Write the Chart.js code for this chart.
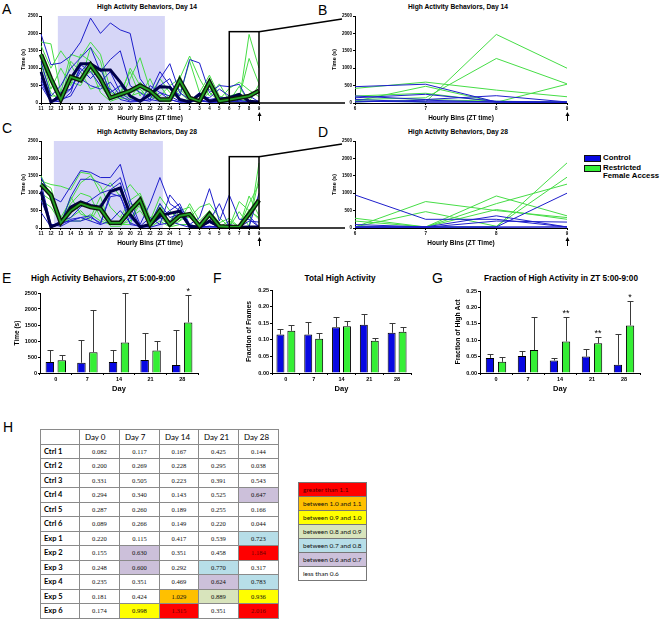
<!DOCTYPE html>
<html>
<head>
<meta charset="utf-8">
<title>High activity behaviors</title>
<script src="https://cdn.jsdelivr.net/npm/chart.js@4.4.1/dist/chart.umd.min.js"></script>
<style>
  body { margin: 0; background: #fff; }
  #page { position: relative; width: 661px; height: 620px; overflow: hidden; font-family: 'Liberation Sans', Arial, sans-serif; color: #000; }
  #page canvas { position: absolute; }
  .letter { position: absolute; font-size: 14px; line-height: 14px; }
  .ttl { position: absolute; font-weight: bold; white-space: nowrap; line-height: 1; transform: translate(-50%, -50%); }
  .key { position: absolute; left: 603px; font-size: 7.8px; font-weight: bold; line-height: 8px; white-space: nowrap; }
  .sw { position: absolute; left: 584px; width: 17px; height: 7px; border: 1px solid #111; box-sizing: border-box; }
  table { position: absolute; border-collapse: collapse; table-layout: fixed; }
  td { border: 1px solid #8a8a8a; padding: 0; overflow: hidden; white-space: nowrap; }
  #ratios tr { height: 14.5px; }
  #ratios td { font-family: 'Liberation Serif', serif; font-size: 6.6px; text-align: center; }
  #ratios td.rh { font-family: Lato, sans-serif; font-weight: bold; font-size: 7.5px; text-align: left; padding-left: 3px; }
  #ratios tr.hd td { font-family: Lato, sans-serif; font-size: 8px; text-align: left; padding-left: 5px; }
  #bands tr { height: 14px; }
  #bands td { font-family: Lato, sans-serif; font-size: 6.5px; padding-left: 4px; border-color: #777; }
</style>
</head>
<body>
<div id="page">
  <div class="letter" style="left:2px;top:2px">A</div>
  <div class="letter" style="left:318px;top:3px">B</div>
  <div class="letter" style="left:2px;top:121px">C</div>
  <div class="letter" style="left:318px;top:125px">D</div>
  <div class="letter" style="left:2px;top:271px">E</div>
  <div class="letter" style="left:213px;top:271px">F</div>
  <div class="letter" style="left:432px;top:271px">G</div>
  <div class="letter" style="left:3px;top:420px">H</div>

  <div class="ttl" style="left:147px;top:7px;font-size:6.7px">High Activity Behaviors, Day 14</div>
  <div class="ttl" style="left:458px;top:7px;font-size:6.7px">High Activity Behaviors, Day 14</div>
  <div class="ttl" style="left:147px;top:132px;font-size:6.7px">High Activity Behaviors, Day 28</div>
  <div class="ttl" style="left:458px;top:132px;font-size:6.7px">High Activity Behaviors, Day 28</div>
  <div class="ttl" style="left:103px;top:279px;font-size:8.2px">High Activity Behaviors, ZT 5:00-9:00</div>
  <div class="ttl" style="left:340px;top:279px;font-size:8.2px">Total High Activity</div>
  <div class="ttl" style="left:561px;top:279px;font-size:8.2px">Fraction of High Activity in ZT 5:00-9:00</div>

  <div class="sw" id="swCtrl" style="top:155px"></div>
  <div class="key" style="top:154px">Control</div>
  <div class="sw" id="swExp" style="top:165px"></div>
  <div class="key" style="top:164px">Restricted</div>
  <div class="key" style="top:172px">Female Access</div>

  <table id="ratios" style="left:40px;top:429px;width:238px"></table>
  <table id="bands" style="left:298px;top:482px;width:69px"></table>
</div>
<script>
// hourly bins (ZT time) used on panels A and C, and the zoomed bins of B and D
const hourBins = ['11', '12', '13', '14', '15', '16', '17', '18', '19', '20', '21', '22', '23', '24',
  '1', '2', '3', '4', '5', '6', '7', '8', '9']
const zoomBins = ['6', '7', '8', '9']
const days = ['0', '7', '14', '21', '28']

// Day 14, time (s) per hourly bin, one array per animal
const d14Ctrl1 = [1980, 1100, 1150, 1350, 1750, 2440, 2000, 2300, 2100, 2000, 700, 300, 900, 500, 200, 1250, 1150, 300, 500, 470, 540, 30, 20]
const d14Ctrl2 = [1200, 200, 500, 1000, 1300, 1600, 900, 1250, 1500, 500, 300, 100, 700, 1130, 300, 100, 200, 150, 400, 200, 100, 210, 30]
const d14Ctrl3 = [700, 30, 300, 400, 900, 1200, 600, 900, 300, 100, 50, 200, 500, 700, 100, 50, 300, 100, 150, 150, 250, 50, 20]
const d14Ctrl4 = [600, 50, 100, 200, 700, 500, 400, 600, 200, 50, 100, 50, 300, 200, 50, 30, 100, 30, 50, 100, 30, 30, 20]
const d14Ctrl5 = [500, 30, 50, 300, 1100, 900, 500, 400, 100, 30, 50, 100, 50, 100, 20, 20, 80, 20, 20, 30, 80, 30, 20]
const d14Ctrl6 = [800, 20, 150, 400, 1000, 700, 1000, 300, 500, 200, 30, 500, 300, 100, 30, 50, 50, 30, 30, 50, 30, 30, 20]
const d14CtrlMean = [900, 30, 200, 700, 1130, 1130, 950, 950, 600, 200, 50, 250, 470, 450, 100, 30, 250, 50, 100, 150, 250, 50, 30]
const d14Exp1 = [1750, 1700, 300, 1400, 1300, 1750, 1400, 400, 100, 700, 1300, 400, 200, 500, 700, 1350, 700, 200, 550, 60, 30, 1970, 1000]
const d14Exp2 = [1650, 1000, 1500, 1100, 600, 1600, 1200, 100, 200, 1000, 500, 200, 700, 300, 200, 1200, 300, 800, 200, 100, 150, 1280, 550]
const d14Exp3 = [1300, 400, 1000, 500, 1400, 1200, 800, 200, 300, 900, 200, 700, 100, 50, 400, 100, 50, 400, 100, 420, 600, 370, 180]
const d14Exp4 = [1100, 300, 50, 1200, 900, 400, 500, 100, 500, 300, 400, 100, 500, 100, 300, 50, 200, 700, 50, 50, 480, 20, 540]
const d14Exp5 = [900, 200, 200, 600, 500, 1000, 300, 50, 150, 100, 600, 300, 50, 30, 800, 50, 30, 500, 30, 200, 280, 30, 30]
const d14Exp6 = [1400, 600, 100, 800, 700, 900, 1000, 300, 200, 200, 300, 200, 50, 50, 500, 100, 50, 300, 50, 30, 100, 50, 30]
const d14ExpMean = [1400, 700, 100, 750, 650, 1100, 700, 150, 250, 350, 500, 350, 100, 100, 650, 150, 50, 600, 50, 100, 150, 200, 350]

// Day 28
const d28Ctrl1 = [1450, 900, 750, 1200, 1650, 1600, 1450, 1450, 1830, 800, 100, 700, 1450, 700, 500, 100, 300, 1130, 200, 950, 250, 250, 30]
const d28Ctrl2 = [800, 100, 100, 900, 1400, 1400, 1300, 1200, 1450, 600, 50, 300, 100, 950, 600, 50, 30, 200, 700, 30, 30, 350, 30]
const d28Ctrl3 = [1100, 50, 200, 300, 600, 800, 1000, 1100, 1300, 300, 30, 100, 700, 300, 400, 30, 30, 50, 30, 100, 30, 30, 1000]
const d28Ctrl4 = [450, 30, 100, 250, 300, 350, 100, 200, 500, 150, 30, 50, 300, 200, 100, 20, 20, 50, 20, 30, 20, 200, 170]
const d28Ctrl5 = [1000, 20, 150, 200, 200, 300, 150, 900, 950, 100, 50, 20, 100, 150, 600, 20, 20, 20, 20, 20, 20, 30, 30]
const d28Ctrl6 = [1300, 100, 50, 200, 300, 200, 100, 1000, 900, 300, 30, 50, 300, 500, 700, 100, 30, 150, 30, 30, 30, 20, 30]
const d28CtrlMean = [1050, 30, 150, 600, 750, 650, 600, 1050, 1150, 400, 30, 100, 350, 420, 480, 50, 20, 200, 30, 30, 20, 30, 30]
const d28Exp1 = [1350, 1250, 1200, 1100, 1600, 1550, 1000, 1300, 900, 1250, 900, 200, 900, 500, 200, 700, 200, 500, 150, 280, 30, 30, 1870]
const d28Exp2 = [1200, 1000, 300, 800, 1300, 1500, 1200, 600, 300, 800, 1000, 300, 400, 200, 600, 300, 600, 700, 300, 30, 760, 500, 300]
const d28Exp3 = [1300, 1150, 200, 700, 1000, 900, 300, 100, 200, 700, 600, 100, 700, 100, 500, 600, 50, 500, 50, 30, 470, 50, 1460]
const d28Exp4 = [1000, 800, 100, 300, 500, 200, 700, 100, 100, 200, 700, 50, 300, 50, 200, 400, 30, 200, 30, 200, 30, 920, 350]
const d28Exp5 = [800, 600, 150, 900, 400, 300, 900, 50, 50, 300, 500, 100, 600, 30, 100, 100, 30, 300, 30, 30, 30, 700, 1260]
const d28Exp6 = [1500, 900, 200, 200, 200, 400, 200, 100, 100, 100, 900, 30, 200, 30, 300, 300, 30, 200, 30, 30, 30, 530, 250]
const d28ExpMean = [1250, 950, 150, 500, 700, 600, 550, 150, 150, 500, 800, 100, 500, 100, 350, 400, 50, 400, 50, 30, 30, 400, 800]

// bar panels: mean and top of error bar
const eCtrl = [340, 320, 340, 410, 250]
const eCtrlErr = [710, 1030, 720, 1250, 1330]
const eExp = [400, 650, 950, 700, 1580]
const eExpErr = [560, 1980, 2490, 1000, 2440]
const eStars = ['', '', '', '', '*']
const fCtrl = [0.116, 0.116, 0.138, 0.145, 0.121]
const fCtrlErr = [0.132, 0.153, 0.168, 0.178, 0.150]
const fExp = [0.127, 0.103, 0.141, 0.097, 0.124]
const fExpErr = [0.144, 0.120, 0.156, 0.106, 0.138]
const gCtrl = [0.046, 0.052, 0.038, 0.050, 0.025]
const gCtrlErr = [0.057, 0.066, 0.045, 0.073, 0.118]
const gExp = [0.034, 0.070, 0.096, 0.091, 0.145]
const gExpErr = [0.048, 0.171, 0.171, 0.111, 0.220]
const gStars = ['', '', '**', '**', '*']

// table H
const dayHeads = ['Day 0', 'Day 7', 'Day 14', 'Day 21', 'Day 28']
const animalNames = ['Ctrl 1', 'Ctrl 2', 'Ctrl 3', 'Ctrl 4', 'Ctrl 5', 'Ctrl 6', 'Exp 1', 'Exp 2', 'Exp 3', 'Exp 4', 'Exp 5', 'Exp 6']
const ctrl1Ratio = [0.082, 0.117, 0.167, 0.425, 0.144]
const ctrl2Ratio = [0.200, 0.269, 0.228, 0.295, 0.038]
const ctrl3Ratio = [0.331, 0.505, 0.223, 0.391, 0.543]
const ctrl4Ratio = [0.294, 0.340, 0.143, 0.525, 0.647]
const ctrl5Ratio = [0.287, 0.260, 0.189, 0.255, 0.166]
const ctrl6Ratio = [0.089, 0.266, 0.149, 0.220, 0.044]
const exp1Ratio = [0.220, 0.115, 0.417, 0.539, 0.723]
const exp2Ratio = [0.155, 0.630, 0.351, 0.458, 1.184]
const exp3Ratio = [0.248, 0.600, 0.292, 0.770, 0.317]
const exp4Ratio = [0.235, 0.351, 0.469, 0.624, 0.783]
const exp5Ratio = [0.181, 0.424, 1.029, 0.889, 0.936]
const exp6Ratio = [0.174, 0.998, 1.315, 0.351, 2.016]
const bandLabels = ['greater than 1.1', 'between 1.0 and 1.1', 'between 0.9 and 1.0', 'between 0.8 and 0.9',
  'between 0.7 and 0.8', 'between 0.6 and 0.7', 'less than 0.6']
const bandFloors = [1.1, 1.0, 0.9, 0.8, 0.7, 0.6, -Infinity]
const bandColors = ['#ff0000', '#ffc000', '#ffff00', '#d8e4bc', '#b7dee8', '#ccc0da', '#ffffff']

const zoomTop = 2050

const BLUE = '#1e1ecb'
const GREEN = '#46dd46'
const BAR_BLUE = '#0808e2'
const BAR_GREEN = '#35ef35'

Chart.defaults.font.family = "'Liberation Sans', Arial, sans-serif"
Chart.defaults.color = '#000'
Chart.defaults.animation = false

const page = document.getElementById('page')
document.getElementById('swCtrl').style.background = BAR_BLUE
document.getElementById('swExp').style.background = BAR_GREEN

/**
 * Shaded dark phase, zoom box and the arrow under ZT 9.
 */
const panelMarks = {
  id: 'panelMarks',
  beforeDatasetsDraw (chart, args, o) {
    if (!o.shade) return
    const { ctx, scales: { x, y } } = chart
    const x0 = x.getPixelForValue(o.shade[0])
    const x1 = x.getPixelForValue(o.shade[1])
    const top = y.getPixelForValue(y.max)
    ctx.save()
    ctx.fillStyle = '#d6d6f7'
    ctx.fillRect(x0, top, x1 - x0, y.getPixelForValue(0) - top)
    ctx.restore()
  },
  afterDatasetsDraw (chart, args, o) {
    const { ctx, chartArea, scales: { x, y } } = chart
    ctx.save()
    ctx.strokeStyle = '#000'
    ctx.fillStyle = '#000'
    if (o.box) {
      const x0 = x.getPixelForValue(o.box[0])
      const x1 = x.getPixelForValue(o.box[1])
      const top = y.getPixelForValue(o.box[2])
      ctx.lineWidth = 1.5
      ctx.strokeRect(x0, top, x1 - x0, y.getPixelForValue(0) - top)
    }
    if (o.arrow !== undefined) {
      const ax = Math.round(x.getPixelForValue(o.arrow)) + 0.5
      const b = chartArea.bottom
      ctx.lineWidth = 1
      ctx.beginPath()
      ctx.moveTo(ax, b + 12)
      ctx.lineTo(ax, b + 18)
      ctx.stroke()
      ctx.beginPath()
      ctx.moveTo(ax, b + 9)
      ctx.lineTo(ax - 2, b + 13)
      ctx.lineTo(ax + 2, b + 13)
      ctx.closePath()
      ctx.fill()
    }
    ctx.restore()
  }
}

/**
 * Upper error bars and significance stars.
 */
const errorBars = {
  id: 'errorBars',
  afterDatasetsDraw (chart) {
    const { ctx } = chart
    const y = chart.scales.y
    ctx.save()
    chart.data.datasets.forEach((ds, i) => {
      chart.getDatasetMeta(i).data.forEach((bar, j) => {
        const bx = Math.round(bar.x) + 0.5
        const top = Math.round(y.getPixelForValue(ds.err[j])) + 0.5
        ctx.strokeStyle = '#3a3a3a'
        ctx.lineWidth = 1
        ctx.beginPath()
        ctx.moveTo(bx, bar.y)
        ctx.lineTo(bx, top)
        ctx.moveTo(bx - 3, top)
        ctx.lineTo(bx + 3, top)
        ctx.stroke()
        if (ds.stars && ds.stars[j]) {
          ctx.fillStyle = '#000'
          ctx.font = "9px 'Liberation Sans', Arial, sans-serif"
          ctx.textAlign = 'center'
          ctx.fillText(ds.stars[j], bar.x, top - 2)
        }
      })
    })
    ctx.restore()
  }
}

// place a canvas so that its chart area lands on the given page box
function mount (area, g) {
  const c = document.createElement('canvas')
  const left = area.l - g.yw - 2
  const top = area.t - g.pt
  c.width = area.r + g.pr - left
  c.height = area.b + g.xh + 2 - top
  c.style.left = left + 'px'
  c.style.top = top + 'px'
  page.appendChild(c)
  return { c, left, top, g }
}

function axisStyle (size) {
  return {
    grid: { drawOnChartArea: false, tickLength: 2, color: '#000', lineWidth: 1 },
    border: { color: '#000', width: 1 },
    ticks: { font: { size, weight: 'bold' }, padding: 1, maxRotation: 0, autoSkip: false }
  }
}

function linePanel (area, spec) {
  const g = { yw: 34, xh: 20, pt: 4, pr: 8 }
  const m = mount(area, g)
  const sets = []
  spec.ctrl.forEach(d => sets.push({ data: d, borderColor: BLUE, borderWidth: 1, order: 4 }))
  spec.exp.forEach(d => sets.push({ data: d, borderColor: GREEN, borderWidth: 1, order: 4 }))
  if (spec.ctrlMean) {
    sets.push({ data: spec.ctrlMean, borderColor: '#00004a', borderWidth: 3, order: 2 })
    sets.push({ data: spec.expMean, borderColor: '#0b1a0b', borderWidth: 4.5, order: 1 })
    sets.push({ data: spec.expMean, borderColor: '#23a023', borderWidth: 1.8, order: 0 })
  }
  const xs = axisStyle(4.5)
  const ys = axisStyle(4.5)
  m.chart = new Chart(m.c, {
    type: 'line',
    data: { labels: spec.labels, datasets: sets },
    options: {
      responsive: false,
      layout: { padding: { left: 2, right: g.pr, top: g.pt, bottom: 2 } },
      elements: { point: { radius: 0 }, line: { tension: 0 } },
      plugins: { legend: { display: false }, tooltip: { enabled: false }, panelMarks: spec.marks },
      scales: {
        x: {
          ...xs,
          type: 'category',
          offset: false,
          title: { display: true, text: spec.xTitle, font: { size: 6.5, weight: 'bold' }, padding: { top: 0, bottom: 1 } },
          afterFit: s => { s.height = g.xh }
        },
        y: {
          ...ys,
          min: 0,
          max: 2500,
          ticks: { ...ys.ticks, stepSize: 500, callback: v => String(v) },
          title: { display: true, text: 'Time (s)', font: { size: 5.5, weight: 'bold' }, padding: { top: spec.yTitlePad, bottom: 0 } },
          afterFit: s => { s.width = g.yw }
        }
      }
    },
    plugins: [panelMarks]
  })
  return m
}

function barPanel (area, spec) {
  const g = { yw: 30, xh: 20, pt: 12, pr: 4 }
  const m = mount(area, g)
  const xs = axisStyle(5.5)
  const ys = axisStyle(5.5)
  const bar = { borderColor: '#000', borderWidth: 1, categoryPercentage: spec.catPct, barPercentage: spec.barPct }
  m.chart = new Chart(m.c, {
    type: 'bar',
    data: {
      labels: days,
      datasets: [
        { ...bar, label: 'Control', data: spec.ctrl, err: spec.ctrlErr, backgroundColor: BAR_BLUE },
        { ...bar, label: 'Restricted Female Access', data: spec.exp, err: spec.expErr, stars: spec.stars, backgroundColor: BAR_GREEN }
      ]
    },
    options: {
      responsive: false,
      layout: { padding: { left: 2, right: g.pr, top: g.pt, bottom: 2 } },
      plugins: { legend: { display: false }, tooltip: { enabled: false } },
      scales: {
        x: {
          ...xs,
          title: { display: true, text: 'Day', font: { size: 7.5, weight: 'bold' }, padding: { top: 0, bottom: 0 } },
          afterFit: s => { s.height = g.xh }
        },
        y: {
          ...ys,
          min: 0,
          max: spec.max,
          ticks: { ...ys.ticks, stepSize: spec.step, callback: spec.fmt },
          title: { display: true, text: spec.yTitle, font: { size: spec.yTitleSize, weight: 'bold' }, padding: { top: spec.yTitlePad, bottom: 0 } },
          afterFit: s => { s.width = g.yw }
        }
      }
    },
    plugins: [errorBars]
  })
  return m
}

const tail = d => d.slice(-4)
const ctrl14 = [d14Ctrl1, d14Ctrl2, d14Ctrl3, d14Ctrl4, d14Ctrl5, d14Ctrl6]
const exp14 = [d14Exp1, d14Exp2, d14Exp3, d14Exp4, d14Exp5, d14Exp6]
const ctrl28 = [d28Ctrl1, d28Ctrl2, d28Ctrl3, d28Ctrl4, d28Ctrl5, d28Ctrl6]
const exp28 = [d28Exp1, d28Exp2, d28Exp3, d28Exp4, d28Exp5, d28Exp6]

const pA = linePanel({ l: 41, t: 16, r: 259, b: 103 }, {
  labels: hourBins, ctrl: ctrl14, exp: exp14, ctrlMean: d14CtrlMean, expMean: d14ExpMean,
  xTitle: 'Hourly Bins (ZT time)', yTitlePad: 13,
  marks: { shade: [1.7, 12.5], box: [19, 22, zoomTop], arrow: 22 }
})
const pB = linePanel({ l: 355, t: 16, r: 567, b: 103 }, {
  labels: zoomBins, ctrl: ctrl14.map(tail), exp: exp14.map(tail),
  xTitle: 'Hourly Bins (ZT time)', yTitlePad: 10,
  marks: { arrow: 3 }
})
const pC = linePanel({ l: 41, t: 141, r: 259, b: 228 }, {
  labels: hourBins, ctrl: ctrl28, exp: exp28, ctrlMean: d28CtrlMean, expMean: d28ExpMean,
  xTitle: 'Hourly Bins (ZT time)', yTitlePad: 13,
  marks: { shade: [1.3, 12.3], box: [19, 22, zoomTop], arrow: 22 }
})
const pD = linePanel({ l: 355, t: 141, r: 567, b: 228 }, {
  labels: zoomBins, ctrl: ctrl28.map(tail), exp: exp28.map(tail),
  xTitle: 'Hourly Bins (ZT Time)', yTitlePad: 10,
  marks: { arrow: 3 }
})

barPanel({ l: 40, t: 293, r: 198, b: 373 }, {
  ctrl: eCtrl, ctrlErr: eCtrlErr, exp: eExp, expErr: eExpErr, stars: eStars,
  max: 2500, step: 500, fmt: v => String(v), yTitle: 'Time (s)', yTitleSize: 6.5, yTitlePad: 3,
  catPct: 0.755, barPct: 0.71
})
barPanel({ l: 272, t: 290, r: 411, b: 373 }, {
  ctrl: fCtrl, ctrlErr: fCtrlErr, exp: fExp, expErr: fExpErr,
  max: 0.25, step: 0.05, fmt: v => v.toFixed(2), yTitle: 'Fraction of Frames', yTitleSize: 6.8, yTitlePad: 3,
  catPct: 0.786, barPct: 0.73
})
barPanel({ l: 480, t: 291, r: 640, b: 373 }, {
  ctrl: gCtrl, ctrlErr: gCtrlErr, exp: gExp, expErr: gExpErr, stars: gStars,
  max: 0.25, step: 0.05, fmt: v => v.toFixed(2), yTitle: 'Fraction of High Act', yTitleSize: 6.8, yTitlePad: 4,
  catPct: 0.76, barPct: 0.68
})

// connector lines from the zoom box to the enlarged panel
const overlay = document.createElement('canvas')
overlay.width = 661
overlay.height = 620
overlay.style.left = '0px'
overlay.style.top = '0px'
overlay.style.pointerEvents = 'none'
page.appendChild(overlay)
const octx = overlay.getContext('2d')

function connect (from, to) {
  const a = from.chart
  const b = to.chart
  const ax = from.left + a.scales.x.getPixelForValue(22)
  const aTop = from.top + a.scales.y.getPixelForValue(zoomTop)
  const aBot = from.top + a.scales.y.getPixelForValue(0)
  const bx = to.left + b.chartArea.left
  octx.strokeStyle = '#000'
  octx.lineWidth = 1.5
  octx.beginPath()
  octx.moveTo(ax, aTop)
  octx.lineTo(bx - 13, to.top + b.chartArea.top + 3)
  octx.moveTo(ax, aBot)
  octx.lineTo(bx - 10, to.top + b.chartArea.bottom)
  octx.stroke()
}
connect(pA, pB)
connect(pC, pD)

// table H and its colour key
const ratioRows = [ctrl1Ratio, ctrl2Ratio, ctrl3Ratio, ctrl4Ratio, ctrl5Ratio, ctrl6Ratio,
  exp1Ratio, exp2Ratio, exp3Ratio, exp4Ratio, exp5Ratio, exp6Ratio]
const bandOf = v => bandFloors.findIndex(f => v >= f)

let html = '<colgroup><col style="width:39px"><col style="width:40px"><col style="width:40px">' +
  '<col style="width:39px"><col style="width:40px"><col style="width:40px"></colgroup>'
html += '<tr class="hd"><td></td>' + dayHeads.map(d => '<td>' + d + '</td>').join('') + '</tr>'
ratioRows.forEach((row, i) => {
  html += '<tr><td class="rh">' + animalNames[i] + '</td>'
  row.forEach(v => {
    const b = bandOf(v)
    const ink = b === 0 ? '#6a0000' : '#111'
    html += '<td style="background:' + bandColors[b] + ';color:' + ink + '">' + v.toFixed(3) + '</td>'
  })
  html += '</tr>'
})
document.getElementById('ratios').innerHTML = html

document.getElementById('bands').innerHTML = bandLabels.map((t, i) =>
  '<tr><td style="background:' + bandColors[i] + ';color:' + (i === 0 ? '#4a0000' : '#111') + '">' + t + '</td></tr>'
).join('')
</script>
</body>
</html>
